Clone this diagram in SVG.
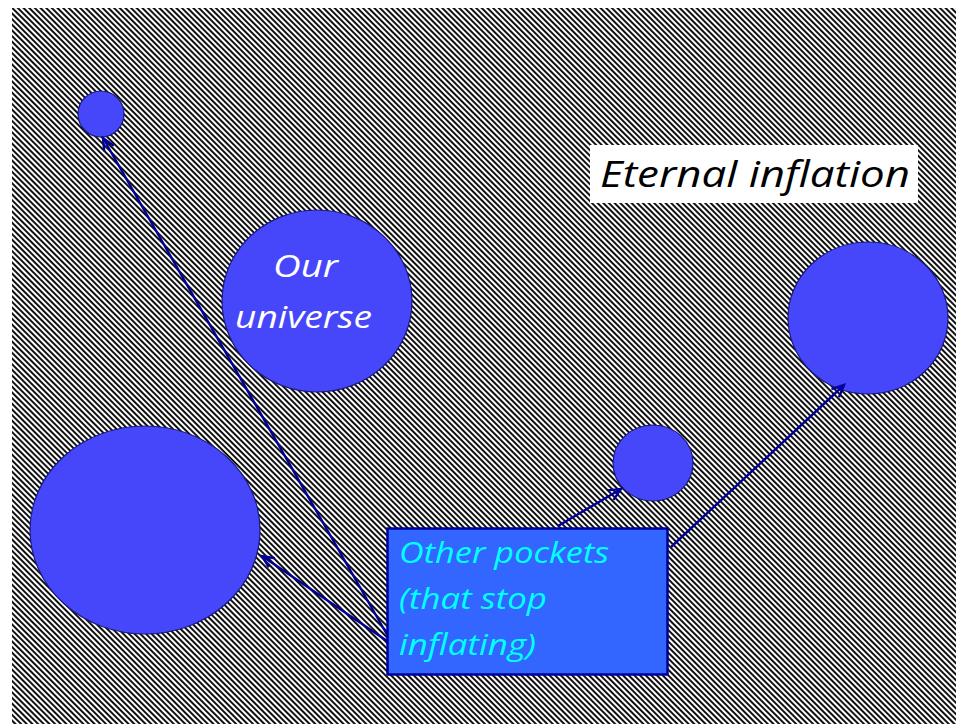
<svg xmlns="http://www.w3.org/2000/svg" width="956" height="724" viewBox="0 0 956 724">
  <defs>
    <pattern id="hatch" patternUnits="userSpaceOnUse" width="8" height="4" patternTransform="rotate(45)">
      <rect x="0" y="0" width="8" height="4" fill="#ffffff"/>
      <rect x="0" y="0" width="8" height="2" fill="#111111"/>
    </pattern>
    <marker id="arr" markerUnits="userSpaceOnUse" markerWidth="16" markerHeight="14" refX="13" refY="7" orient="auto">
      <path d="M1,1.5 L13,7 L1,12.5" fill="none" stroke="#00009a" stroke-width="2.4"/>
    </marker>
    <style>
      .pocket { fill: #4646fa; stroke: #1a1a80; stroke-width: 1.2; }
      .conn { stroke: #00009a; stroke-width: 2.4; fill: none; marker-end: url(#arr); }
      .it { font-family: "Open Sans", "DejaVu Sans", sans-serif; font-style: italic; }
    </style>
  </defs>
  <rect x="0" y="0" width="956" height="724" fill="#ffffff"/>
  <rect x="12" y="8" width="944" height="716" fill="url(#hatch)"/>

  <g id="pocket-top-small">
    <ellipse class="pocket" cx="101" cy="114" rx="23" ry="23"/>
  </g>
  <g id="our-universe">
    <ellipse class="pocket" cx="317" cy="301" rx="95" ry="91"/>
    <text class="it" x="273" y="277" font-size="31" fill="#ffffff" textLength="65" lengthAdjust="spacingAndGlyphs">Our</text>
    <text class="it" x="235" y="328" font-size="31" fill="#ffffff" textLength="137" lengthAdjust="spacingAndGlyphs">universe</text>
  </g>
  <g id="pocket-left-large">
    <ellipse class="pocket" cx="145" cy="530" rx="115" ry="104"/>
  </g>
  <g id="pocket-mid-small">
    <ellipse class="pocket" cx="653" cy="463" rx="40" ry="38"/>
  </g>
  <g id="pocket-right">
    <ellipse class="pocket" cx="868" cy="318" rx="80" ry="76"/>
  </g>
  <g id="title">
    <rect x="590" y="145" width="328" height="58" fill="#ffffff"/>
    <text class="it" x="600" y="187" font-size="37" fill="#000000" textLength="310" lengthAdjust="spacingAndGlyphs">Eternal inflation</text>
  </g>

  <g id="connectors">
    <line class="conn" x1="393" y1="645" x2="103" y2="138"/>
    <line class="conn" x1="393" y1="645" x2="262" y2="556"/>
    <line class="conn" x1="558" y1="526" x2="621" y2="489"/>
    <line class="conn" x1="671" y1="547" x2="844" y2="385"/>
  </g>

  <g id="other-pockets">
    <rect x="387.5" y="528.5" width="280" height="146" fill="#3366ff" stroke="#00009a" stroke-width="2.5"/>
    <text class="it" font-size="30" fill="#00ffff">
      <tspan x="399" y="563" textLength="210" lengthAdjust="spacingAndGlyphs">Other pockets</tspan>
      <tspan x="399" y="609" textLength="148" lengthAdjust="spacingAndGlyphs">(that stop</tspan>
      <tspan x="399" y="655" textLength="137" lengthAdjust="spacingAndGlyphs">inflating)</tspan>
    </text>
  </g>
</svg>
